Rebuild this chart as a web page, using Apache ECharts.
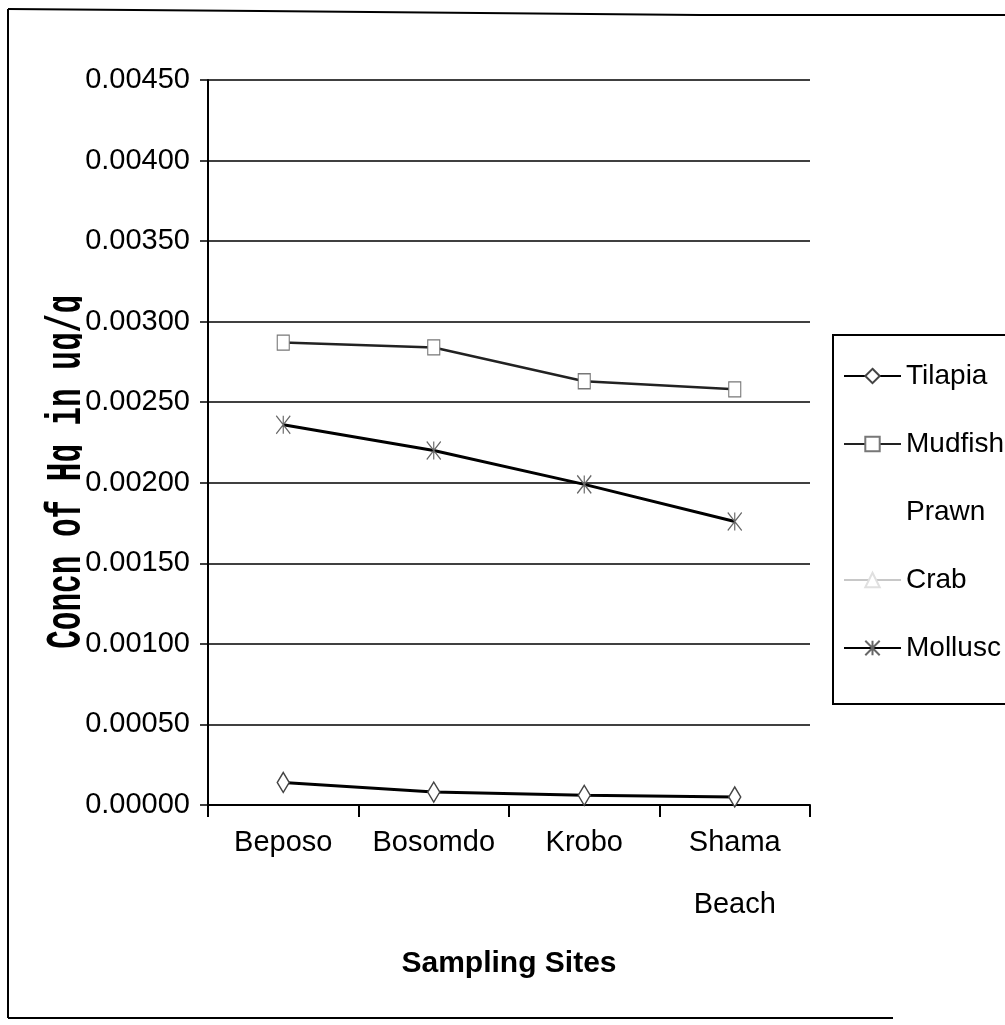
<!DOCTYPE html>
<html>
<head>
<meta charset="utf-8">
<title>Concentration of Hg at sampling sites</title>
<script src="https://cdn.jsdelivr.net/npm/echarts@6/dist/echarts.min.js"></script>
<style>
  html, body { margin: 0; padding: 0; background: #fff; }
  #chart { width: 1005px; height: 1025px; }
</style>
</head>
<body>
<div id="chart"></div>
<script>
// Sampling sites along the x axis
const categories = ['Beposo', 'Bosomdo', 'Krobo', 'Shama\nBeach'];

// Hg concentration (ug/g) per organism at each site
const tilapia = [0.00014, 0.00008, 0.00006, 0.00005];
const mudfish = [0.00287, 0.00284, 0.00263, 0.00258];
const prawn   = [null, null, null, null];
const crab    = [null, null, null, null];
const mollusc = [0.00236, 0.00220, 0.00199, 0.00176];

// Value axis range
const yMin = 0;
const yMax = 0.0045;
const yStep = 0.0005;

const FONT = '"Liberation Sans", Arial, sans-serif';
const asterisk = 'path://M0,0 L10,12 M10,0 L0,12 M5,0 L5,12';

const chart = echarts.init(document.getElementById('chart'), null, { renderer: 'canvas' });

chart.setOption({
  backgroundColor: '#ffffff',
  animation: false,
  grid: { left: 208, right: 195, top: 80, bottom: 220, containLabel: false },
  legend: {
    orient: 'vertical',
    left: 833,
    top: 335,
    padding: [23, 16, 38, 10],
    itemGap: 32,
    itemWidth: 57,
    itemHeight: 18,
    borderColor: '#000',
    borderWidth: 2,
    backgroundColor: '#fff',
    selectedMode: false,
    textStyle: { fontFamily: FONT, fontSize: 28, color: '#000', lineHeight: 36 },
    data: ['Tilapia', 'Mudfish', 'Prawn', 'Crab', 'Mollusc']
  },
  xAxis: {
    type: 'category',
    data: categories,
    boundaryGap: true,
    axisLine: { lineStyle: { color: '#000', width: 2 } },
    axisTick: { show: true, length: 12, inside: false, alignWithLabel: false, lineStyle: { color: '#000', width: 2 } },
    axisLabel: {
      margin: 7,
      fontFamily: FONT,
      fontSize: 29,
      lineHeight: 62,
      color: '#000',
      interval: 0
    },
    name: 'Sampling Sites',
    nameLocation: 'middle',
    nameGap: 144,
    nameTextStyle: { fontFamily: FONT, fontSize: 30, fontWeight: 'bold', color: '#000' },
    splitLine: { show: false }
  },
  yAxis: {
    type: 'value',
    min: yMin,
    max: yMax,
    interval: yStep,
    axisLine: { show: true, lineStyle: { color: '#000', width: 2 } },
    axisTick: { show: true, length: 8, lineStyle: { color: '#000', width: 1.5 } },
    axisLabel: {
      margin: 18,
      fontFamily: FONT,
      fontSize: 29,
      color: '#000',
      formatter: v => v.toFixed(5)
    },
    splitLine: { show: true, lineStyle: { color: '#000', width: 1.5 } }
  },
  series: [
    {
      name: 'Tilapia', type: 'line', data: tilapia,
      symbol: 'diamond', symbolSize: [12, 20],
      lineStyle: { color: '#000', width: 3 },
      itemStyle: { color: '#fff', borderColor: '#444', borderWidth: 1.5 },
      z: 3
    },
    {
      name: 'Mudfish', type: 'line', data: mudfish,
      symbol: 'rect', symbolSize: [12, 15],
      lineStyle: { color: '#222', width: 2.5 },
      itemStyle: { color: '#fff', borderColor: '#777', borderWidth: 1.2 },
      z: 3
    },
    {
      name: 'Prawn', type: 'line', data: prawn,
      symbol: 'circle', symbolSize: 10,
      lineStyle: { color: '#ffffff', width: 2 },
      itemStyle: { color: '#ffffff', borderColor: '#ffffff' }
    },
    {
      name: 'Crab', type: 'line', data: crab,
      symbol: 'triangle', symbolSize: 10,
      lineStyle: { color: '#c8c8c8', width: 2 },
      itemStyle: { color: '#fff', borderColor: '#e0e0e0', borderWidth: 1 }
    },
    {
      name: 'Mollusc', type: 'line', data: mollusc,
      symbol: asterisk, symbolSize: [14, 18],
      lineStyle: { color: '#000', width: 3 },
      itemStyle: { color: '#fff', borderColor: '#666', borderWidth: 1.3 },
      z: 3
    }
  ],
  graphic: {
    elements: [
      // outer frame of the figure
      { type: 'polyline', z: 10, shape: { points: [[8, 9], [260, 11], [700, 15], [1005, 15]] },
        style: { stroke: '#000', lineWidth: 2, fill: null } },
      { type: 'line', z: 10, shape: { x1: 8, y1: 9, x2: 8, y2: 1018 },
        style: { stroke: '#000', lineWidth: 2 } },
      { type: 'line', z: 10, shape: { x1: 8, y1: 1018, x2: 893, y2: 1018 },
        style: { stroke: '#000', lineWidth: 2 } },
      // vertical value-axis title, tall monospace lettering
      {
        type: 'text', z: -2,
        x: 67, y: 472,
        rotation: Math.PI / 2,
        scaleX: 1, scaleY: 1.6,
        style: {
          text: 'Concn of Hg in ug/g',
          fontFamily: '"Liberation Mono", "DejaVu Sans Mono", monospace',
          fontSize: 31,
          fontWeight: 'bold',
          fill: '#000',
          align: 'center', verticalAlign: 'middle',
          textAlign: 'center', textVerticalAlign: 'middle'
        }
      },
      // tick-label strip sits over the title's descenders
      { type: 'rect', z: -1, shape: { x: 82, y: 270, width: 120, height: 400 },
        style: { fill: '#fff' } }
    ]
  }
});
</script>
</body>
</html>
